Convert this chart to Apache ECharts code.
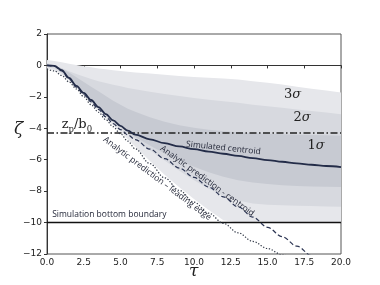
<!DOCTYPE html>
<html><head><meta charset="utf-8">
<script src="https://cdn.jsdelivr.net/npm/echarts@6/dist/echarts.min.js"></script>
<style>html,body{margin:0;padding:0;background:#fff}#c{width:380px;height:285px}</style>
</head><body><div id="c"></div>
<script>
// ---- data ----
const tau = [0,0.5,1,1.5,2,2.5,3,3.5,4,4.5,5,5.5,6,7,8,9,10,11,12,13,14,15,16,17,18,19,20];
const simCentroid = [0,-0.03,-0.3,-0.8,-1.3,-1.75,-2.2,-2.65,-3.1,-3.5,-3.85,-4.15,-4.4,-4.7,-4.95,-5.15,-5.33,-5.48,-5.62,-5.76,-5.9,-6.02,-6.13,-6.23,-6.32,-6.4,-6.47];
const anaCentroid = [0,-0.05,-0.35,-0.85,-1.38,-1.85,-2.32,-2.8,-3.27,-3.7,-4.08,-4.42,-4.72,-5.33,-5.93,-6.53,-7.12,-7.74,-8.36,-9.0,-9.65,-10.3,-10.9,-11.5,-12.1,-12.7,null];
const leadEdge = [-0.23,-0.35,-0.64,-1.05,-1.5,-1.99,-2.5,-2.98,-3.45,-3.9,-4.35,-4.82,-5.3,-6.25,-7.15,-7.95,-8.7,-9.4,-10.05,-10.65,-11.2,-11.65,-12.05,-12.5,null,null,null];
const sig3Top = [0.35,0.28,0.2,0.11,0.02,-0.05,-0.12,-0.19,-0.25,-0.3,-0.35,-0.4,-0.45,-0.52,-0.6,-0.67,-0.73,-0.78,-0.83,-0.9,-1.0,-1.1,-1.22,-1.35,-1.48,-1.6,-1.72];
const sig2Top = [0.15,0.0,-0.18,-0.37,-0.55,-0.71,-0.86,-1.0,-1.12,-1.23,-1.33,-1.43,-1.52,-1.68,-1.82,-1.95,-2.07,-2.18,-2.28,-2.38,-2.5,-2.6,-2.7,-2.8,-2.9,-3.0,-3.1];
const sig1Top = [0.05,0.0,-0.2,-0.45,-0.75,-1.05,-1.35,-1.65,-1.95,-2.25,-2.5,-2.75,-2.95,-3.3,-3.58,-3.8,-3.97,-4.1,-4.19,-4.26,-4.31,-4.35,-4.38,-4.41,-4.43,-4.45,-4.47];
const sig1Bot = [-0.05,-0.1,-0.4,-0.85,-1.32,-1.8,-2.26,-2.72,-3.15,-3.55,-3.92,-4.25,-4.55,-5.1,-5.6,-6.05,-6.45,-6.8,-7.08,-7.3,-7.45,-7.55,-7.62,-7.67,-7.7,-7.72,-7.74];
const sig2Bot = [-0.12,-0.2,-0.48,-0.9,-1.36,-1.84,-2.3,-2.76,-3.2,-3.62,-4.02,-4.38,-4.72,-5.4,-6.05,-6.7,-7.3,-7.85,-8.3,-8.6,-8.78,-8.86,-8.9,-8.93,-8.95,-8.98,-9.0];
const sig3Bot = [-0.2,-0.3,-0.58,-0.98,-1.42,-1.9,-2.4,-2.88,-3.35,-3.8,-4.24,-4.7,-5.16,-6.08,-6.95,-7.75,-8.5,-9.2,-9.85,-10,-10,-10,-10,-10,-10,-10,-10];
const zpLevel = -4.3;
const bottomBoundary = -10;

// ---- layout/annotations ----
const annotations = [
  {t:16.7, z:-1.85, text:'{n|3}{s|σ}', rot:0, align:'center', kind:'sig'},
  {t:17.35, z:-3.3, text:'{n|2}{s|σ}', rot:0, align:'center', kind:'sig'},
  {t:18.3, z:-5.13, text:'{n|1}{s|σ}', rot:0, align:'center', kind:'sig'},
  {t:12.0, z:-5.25, text:'Simulated centroid', rot:-6, align:'center', kind:'txt'},
  {t:10.9, z:-7.35, text:'Analytic prediction - centroid', rot:-36, align:'center', kind:'txt'},
  {t:7.5, z:-7.2, text:'Analytic prediction – leading edge', rot:-37, align:'center', kind:'txt'},
  {t:0.35, z:-9.5, text:'Simulation bottom boundary', rot:0, align:'left', kind:'txt'},
  {t:1.0, z:-3.85, text:'{m|z}{sb|p}{m|/b}{sb|0}', rot:0, align:'left', kind:'zp'}
];

const pairs = arr => tau.map((t,i)=>[t,arr[i]]).filter(p=>p[1]!=null);

function band(upper, lower, color){
  return {type:'custom', silent:true, clip:true, z:1, data:[[0,0]],
    renderItem:(params, api)=>{
      const pts=[];
      for(let i=0;i<tau.length;i++) pts.push(api.coord([tau[i], upper[i]]));
      for(let i=tau.length-1;i>=0;i--) pts.push(api.coord([tau[i], lower[i]]));
      return {type:'polygon', shape:{points:pts}, style:{fill:color}};
    }};
}

const chart = echarts.init(document.getElementById('c'), null, {renderer:'canvas'});
const option = {
  animation:false,
  backgroundColor:'#fff',
  grid:{left:47, right:39, top:34, bottom:31, outerBoundsMode:'none', containLabel:false,
    show:true, borderColor:'#555', borderWidth:1, backgroundColor:'transparent'},
  graphic:[
    {type:'text', left:14, top:121, style:{text:'ζ', fontFamily:'DejaVu Serif', fontSize:17, fontStyle:'italic', fill:'#222'}},
    {type:'text', left:189, top:263, style:{text:'τ', fontFamily:'DejaVu Serif', fontSize:17, fontStyle:'italic', fill:'#222'}}
  ],
  xAxis:{type:'value', min:0, max:20, interval:2.5,
    axisLine:{show:true, lineStyle:{color:'#333', width:1}},
    axisTick:{show:true, length:3, lineStyle:{color:'#333'}},
    splitLine:{show:false},
    axisLabel:{fontFamily:'DejaVu Sans', fontSize:9, color:'#222', margin:4,
      formatter:v=>v.toFixed(1)}},
  yAxis:{type:'value', min:-12, max:2, interval:2,
    axisLine:{show:true, lineStyle:{color:'#333', width:1}},
    axisTick:{show:true, length:3, lineStyle:{color:'#333'}},
    splitLine:{show:false},
    axisLabel:{fontFamily:'DejaVu Sans', fontSize:9, color:'#222', margin:5,
      formatter:v=>v<0?'\u2212'+Math.abs(v):String(v)}},
  series:[
    band(sig3Top, sig3Bot, '#e6e7eb'),
    band(sig2Top, sig2Bot, '#d7d9df'),
    band(sig1Top, sig1Bot, '#c7cad2'),
    {type:'line', data:[[0,zpLevel],[20,zpLevel]], showSymbol:false, z:3, silent:true,
      lineStyle:{color:'#222', width:1.3, type:[7,2.5,1.5,2.5]}},
    {type:'line', data:[[0,bottomBoundary],[20,bottomBoundary]], showSymbol:false, z:3, silent:true,
      lineStyle:{color:'#111', width:1.4}},
    {type:'line', data:pairs(leadEdge), showSymbol:false, smooth:0.35, smoothMonotone:'x', z:4, silent:true, clip:true,
      lineStyle:{color:'#333a48', width:1.2, type:[1.3,1.7]}},
    {type:'line', data:pairs(anaCentroid), showSymbol:false, smooth:0.35, smoothMonotone:'x', z:4, silent:true, clip:true,
      lineStyle:{color:'#2b3452', width:1.2, type:[4.5,2.5]}},
    {type:'line', data:pairs(simCentroid), showSymbol:false, smooth:0.35, smoothMonotone:'x', z:5, silent:true, clip:true,
      lineStyle:{color:'#232c48', width:1.8}},
    {type:'custom', silent:true, z:6, data:annotations.map((a,i)=>[a.t,a.z,i]),
      renderItem:(params, api)=>{
        const a = annotations[params.dataIndex];
        const p = api.coord([a.t, a.z]);
        let style;
        if(a.kind==='sig'){
          style={text:a.text, align:'center', verticalAlign:'middle', fill:'#222',
            rich:{n:{fontFamily:'DejaVu Serif', fontSize:13, fill:'#222'},
                  s:{fontFamily:'DejaVu Serif', fontSize:13, fontStyle:'italic', fill:'#222'}}};
        } else if(a.kind==='zp'){
          style={text:a.text, align:'left', verticalAlign:'middle', fill:'#222',
            rich:{m:{fontFamily:'DejaVu Serif', fontSize:13, fill:'#222', lineHeight:16, verticalAlign:'top'},
                  sb:{fontFamily:'DejaVu Serif', fontSize:8.5, fill:'#222', lineHeight:16, verticalAlign:'bottom', padding:[6,0,0,0]}}};
        } else {
          style={text:a.text, align:a.align, verticalAlign:'middle', fill:'#1e2233',
            fontFamily:'Open Sans', fontSize:8.5};
        }
        return {type:'text', x:p[0], y:p[1], rotation:a.rot*Math.PI/180, style};
      }}
  ]
};
chart.setOption(option);
</script>
</body></html>
